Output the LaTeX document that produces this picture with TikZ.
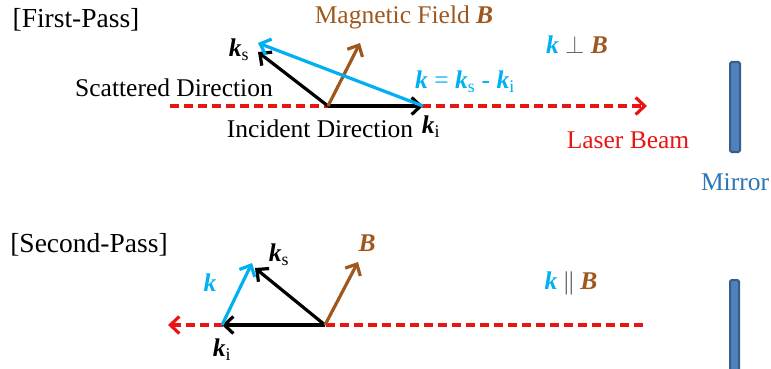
\documentclass[tikz,border=0pt]{standalone}
\usepackage{fontspec}
\setmainfont{Liberation Serif}
\usepackage{tikz}
\usetikzlibrary{arrows.meta}
\usetikzlibrary{positioning}
\definecolor{kblue}{RGB}{0,176,240}
\definecolor{bbrown}{RGB}{158,88,30}
\definecolor{laserred}{RGB}{235,20,20}
\definecolor{mirrortext}{RGB}{46,117,182}
\definecolor{mirrorfill}{RGB}{79,129,189}
\definecolor{mirrorline}{RGB}{56,93,138}
\newcommand{\kv}{\textbf{\textit{k}}}
\newcommand{\Bv}{\textbf{\textit{B}}}
\tikzset{
    vec/.style={
           line width=3.2pt,
           -{Straight Barb[length=9pt,width=17pt]},
           },
}
\tikzset{
    beam/.style={
           laserred, line width=3.2pt,
           dash pattern=on 9pt off 5pt,
           },
}
\tikzset{
    lbl/.style={
           font=\fontsize{25.5}{29}\selectfont,
           inner sep=0pt,
           },
}
\tikzset{
    mirror/.style={
           draw=mirrorline, fill=mirrorfill,
           line width=2pt, rounded corners=1.5pt,
           },
}
\begin{document}
\begin{tikzpicture}[x=1pt,y=-1pt]
\useasboundingbox (0,0) rectangle (771,369);
% first pass
\node[lbl,font=\fontsize{27.5}{31}\selectfont](fp) at (76,20){[First-Pass]};
\coordinate (o1) at (328,106);
\coordinate (ki1) at (423,106);
\coordinate (ks1) at (258,52);
\coordinate (k1) at (258,43);
\coordinate (b1) at (360,43);
\coordinate (bs1) at (170,106);
\coordinate (be1) at (647,106);
\draw[beam,-{Straight Barb[length=9pt,width=17pt]}] (bs1) -- (be1);
\draw[vec] (o1) -- (ki1);
\draw[vec] (o1) -- (ks1);
\draw[vec,bbrown] (o1) -- (b1);
\draw[vec,kblue] (ki1) -- (k1);
\node[lbl](lks1) at (239,50){\kv\textsubscript{s}};
\node[lbl](lki1) at (431,127){\kv\textsubscript{i}};
\node[lbl](sd) at (174,88){Scattered Direction};
\node[lbl](id) at (320,129){Incident Direction};
\node[lbl,bbrown](mf) at (404,17){Magnetic Field \Bv};
\node[lbl,kblue](kdef) at (465,82){\kv{} = \kv\textsubscript{s} - \kv\textsubscript{i}};
\node[lbl](perp) at (577,45){\textcolor{kblue}{\kv}\ \textcolor{gray!80!black}{$\perp$}\ \textcolor{bbrown}{\Bv}};
\node[lbl,laserred](lb) at (628,140){Laser Beam};
\draw[mirror] (730,62) rectangle (740,152);
\node[lbl,mirrortext](mir) at (735,182){Mirror};
% second pass
\node[lbl,font=\fontsize{27.5}{31}\selectfont](sp) at (89,245){[Second-Pass]};
\coordinate (o2) at (325,325);
\coordinate (ki2) at (222,325);
\coordinate (ks2) at (255,268);
\coordinate (k2) at (252,263);
\coordinate (b2) at (358,262);
\coordinate (bs2) at (643,325);
\coordinate (be2) at (168,325);
\draw[beam,-{Straight Barb[length=9pt,width=17pt]}] (bs2) -- (be2);
\draw[vec] (o2) -- (ki2);
\draw[vec] (o2) -- (ks2);
\draw[vec,bbrown] (o2) -- (b2);
\draw[vec,kblue] (ki2) -- (k2);
\node[lbl](lks2) at (279,255){\kv\textsubscript{s}};
\node[lbl,kblue](lk2) at (210,283){\kv};
\node[lbl,bbrown](lb2) at (367,243){\Bv};
\node[lbl](lki2) at (222,350){\kv\textsubscript{i}};
\node[lbl](par) at (571,283){\textcolor{kblue}{\kv}\ \textcolor{gray!80!black}{||}\ \textcolor{bbrown}{\Bv}};
\draw[mirror] (730,280) rectangle (739,372);
\end{tikzpicture}
\end{document}
